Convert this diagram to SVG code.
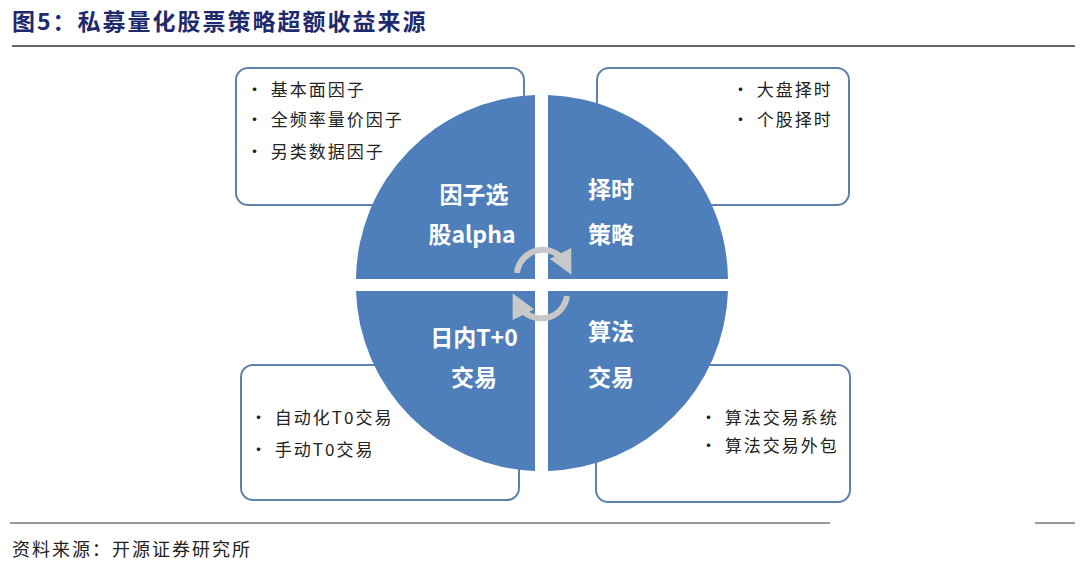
<svg xmlns="http://www.w3.org/2000/svg" width="1080" height="574" viewBox="0 0 1080 574">
<style>
.box{fill:#fff;stroke:#5f82ad;stroke-width:2}
.t{font-family:"Noto Sans CJK SC",sans-serif;font-size:17px;fill:#222;letter-spacing:2px}
.q{font-family:"Noto Sans CJK SC",sans-serif;font-size:23px;font-weight:bold;fill:#fff;text-anchor:middle}
.arc{fill:none;stroke:#c8c8c8;stroke-width:6}
</style>
<defs><marker id="ah" markerWidth="4" markerHeight="4" refX="2" refY="2" orient="auto"><path d="M0,0L4,2L0,4z" fill="#c8c8c8"/></marker></defs>
<rect width="1080" height="574" fill="#fff"/>
<text x="12" y="30" font-family="Noto Sans CJK SC,serif" font-size="23" font-weight="bold" fill="#1f2a6e" letter-spacing="2">图5：私募量化股票策略超额收益来源</text>
<line x1="12" y1="46" x2="1075" y2="46" stroke="#333" stroke-width="1.5"/>
<g id="box-tl"><rect class="box" x="236" y="68" width="288" height="137" rx="12"/>
<text class="t" x="246" y="96">• 基本面因子</text><text class="t" x="246" y="126">• 全频率量价因子</text><text class="t" x="246" y="158">• 另类数据因子</text></g>
<g id="box-tr"><rect class="box" x="597" y="68" width="252" height="137" rx="12"/>
<text class="t" x="732" y="96">• 大盘择时</text><text class="t" x="732" y="126">• 个股择时</text></g>
<g id="box-bl"><rect class="box" x="241" y="365" width="278" height="135" rx="12"/>
<text class="t" x="250" y="424">• 自动化T0交易</text><text class="t" x="250" y="456">• 手动T0交易</text></g>
<g id="box-br"><rect class="box" x="596" y="365" width="254" height="137" rx="12"/>
<text class="t" x="700" y="424">• 算法交易系统</text><text class="t" x="700" y="452">• 算法交易外包</text></g>
<g id="circle">
<path d="M535,279 L535,95 A186,186 0 0 0 356,279 Z" fill="#4f7fbb"/>
<path d="M548,279 L548,95 A186,186 0 0 1 728,279 Z" fill="#4f7fbb"/>
<path d="M535,291 L535,471 A186,186 0 0 1 356,291 Z" fill="#4f7fbb"/>
<path d="M548,291 L548,471 A186,186 0 0 0 728,291 Z" fill="#4f7fbb"/>
<text class="q" x="474" y="203">因子选</text><text class="q" x="472" y="243">股alpha</text>
<text class="q" x="611" y="198">择时</text><text class="q" x="611" y="243">策略</text>
<text class="q" x="474" y="346">日内T+0</text><text class="q" x="474" y="386">交易</text>
<text class="q" x="611" y="340">算法</text><text class="q" x="611" y="386">交易</text>
</g>
<g id="connectors">
<path class="arc" d="M517,273 A26,26 0 0 1 566,264" marker-end="url(#ah)"/>
<path class="arc" d="M567,296 A26,26 0 0 1 518,304" marker-end="url(#ah)"/>
</g>
<line x1="10" y1="523" x2="830" y2="523" stroke="#333"/>
<line x1="1035" y1="523" x2="1075" y2="523" stroke="#333"/>
<text x="12" y="556" font-family="Noto Sans CJK SC,serif" font-size="18" fill="#222" letter-spacing="2">资料来源：开源证券研究所</text>
</svg>
